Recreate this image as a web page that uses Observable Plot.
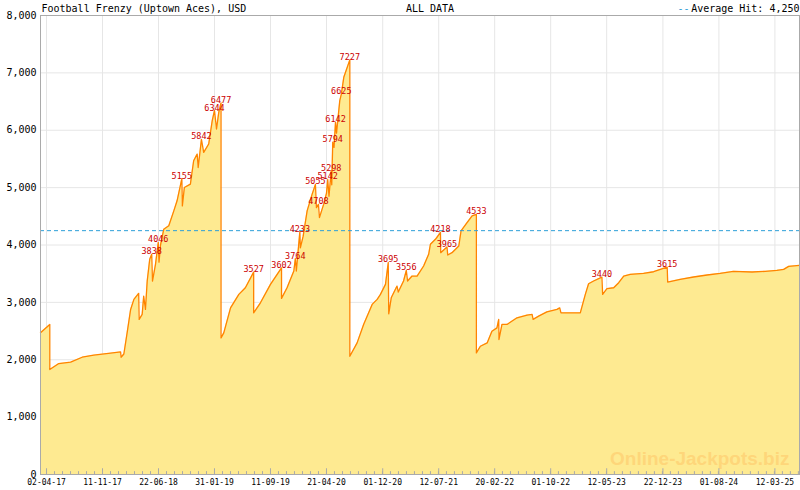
<!DOCTYPE html>
<html>
<head>
<meta charset="utf-8">
<script src="https://cdn.jsdelivr.net/npm/d3@7"></script>
<script src="https://cdn.jsdelivr.net/npm/@observablehq/plot@0.6"></script>
<style>
  html, body { margin: 0; padding: 0; background: #fff; }
  #chart svg { display: block; }
</style>
</head>
<body>
<div id="chart"></div>
<script>
const title = "Football Frenzy (Uptown Aces), USD";
const periodLabel = "ALL DATA";
const watermark = "Online-Jackpots.biz";
const averageHit = 4250;

const dates = [
"2017-03-09","2017-04-15","2017-04-15","2017-05-21","2017-07-07","2017-08-22","2017-10-07","2017-12-13",
"2018-01-22","2018-01-24","2018-02-04","2018-02-17","2018-03-03","2018-03-16","2018-04-04","2018-04-06",
"2018-04-18","2018-04-24","2018-05-01","2018-05-08","2018-05-18","2018-05-26","2018-05-29","2018-06-10",
"2018-06-21","2018-06-24","2018-06-30","2018-07-13","2018-08-02","2018-08-22","2018-09-04","2018-09-23",
"2018-09-25","2018-10-03","2018-10-27","2018-11-09","2018-11-23","2018-11-27","2018-12-10","2018-12-19",
"2019-01-08","2019-01-22","2019-01-31","2019-02-08","2019-02-17","2019-02-26","2019-02-26","2019-03-09",
"2019-04-05","2019-05-08","2019-06-03","2019-07-06","2019-07-06","2019-08-02","2019-09-11","2019-10-25",
"2019-10-25","2019-11-16","2019-12-13","2019-12-19","2019-12-23","2020-01-06","2020-01-08","2020-01-19",
"2020-02-04","2020-02-24","2020-03-08","2020-03-12","2020-03-20","2020-03-24","2020-04-10","2020-04-21",
"2020-04-26","2020-05-01","2020-05-10","2020-05-12","2020-05-16","2020-05-21","2020-05-27","2020-05-31",
"2020-06-13","2020-06-19","2020-06-29","2020-07-23","2020-07-23","2020-08-21","2020-09-16","2020-10-20",
"2020-11-09","2020-11-22","2020-12-12","2020-12-23","2020-12-25","2021-01-04","2021-01-27","2021-02-01",
"2021-02-22","2021-03-05","2021-03-10","2021-03-28","2021-04-17","2021-05-13","2021-06-02","2021-06-09",
"2021-06-29","2021-07-19","2021-07-20","2021-08-14","2021-08-17","2021-09-03","2021-09-30","2021-10-09",
"2021-11-02","2021-11-22","2021-12-09","2021-12-09","2021-12-25","2022-01-21","2022-02-09","2022-03-01",
"2022-03-08","2022-03-09","2022-03-21","2022-04-10","2022-05-20","2022-06-29","2022-07-19","2022-07-23",
"2022-08-14","2022-09-16","2022-10-26","2022-11-06","2022-11-11","2023-01-27","2023-02-16","2023-03-01",
"2023-03-21","2023-04-23","2023-04-26","2023-05-13","2023-06-09","2023-06-29","2023-07-19","2023-08-14",
"2023-10-06","2023-11-15","2024-01-08","2024-01-10","2024-02-29","2024-04-22","2024-06-15","2024-08-06",
"2024-09-28","2024-12-11","2025-02-02","2025-03-20","2025-04-16","2025-05-06","2025-06-18"
];
const values = [
2469,2615,1829,1934,1957,2044,2079,2114,
2137,2044,2100,2469,2877,3052,3157,2703,
2790,3110,2877,3372,3751,3838,3372,3663,
4046,3700,4000,4275,4335,4595,4770,5155,
4682,5002,5061,5468,5585,5351,5842,5613,
5760,6167,6344,6022,6312,6477,2381,2469,
2905,3139,3255,3527,2818,2993,3314,3602,
3069,3255,3547,3764,3547,4233,3950,4150,
4595,4886,5055,4650,4708,4478,4712,4900,
5142,4850,5298,5050,5794,5700,6142,5950,
6516,6625,6923,7227,2061,2294,2615,2965,
3052,3139,3314,3695,2800,3080,3284,3180,
3372,3556,3372,3459,3459,3634,3838,4013,
4100,4218,3866,3965,3826,3866,3983,4245,
4390,4507,4533,2119,2236,2294,2498,2556,
2703,2353,2615,2615,2731,2778,2790,2703,
2760,2835,2877,2905,2818,2818,3139,3325,
3372,3440,3139,3238,3255,3343,3459,3489,
3506,3534,3615,3354,3401,3442,3477,3506,
3541,3529,3541,3559,3576,3628,3646
];

const hitDates = [
"2018-05-26","2018-06-21","2018-09-23","2018-12-10","2019-01-31","2019-02-26","2019-07-06","2019-10-25",
"2019-12-19","2020-01-06","2020-03-08","2020-03-20","2020-04-26","2020-05-10","2020-05-16","2020-05-27",
"2020-06-19","2020-07-23","2020-12-23","2021-03-05","2021-07-19","2021-08-14","2021-12-09","2023-04-23",
"2024-01-08"
];
const hitValues = [
3838,4046,5155,5842,6344,6477,3527,3602,
3764,4233,5055,4708,5142,5298,5794,6142,
6625,7227,3695,3556,4218,3965,4533,3440,
3615
];

const xTickLabels = ["02-04-17","11-11-17","22-06-18","31-01-19","11-09-19","21-04-20","01-12-20",
  "12-07-21","20-02-22","01-10-22","12-05-23","22-12-23","01-08-24","12-03-25"];
const yTicks = [0,1000,2000,3000,4000,5000,6000,7000,8000];
const xDomain = ["2017-03-09","2025-06-18"];

const parse = d3.utcParse("%Y-%m-%d");
const parseTick = d3.utcParse("%d-%m-%y");
const series = dates.map((d, i) => ({date: parse(d), value: values[i]}));
const hits = hitDates.map((d, i) => ({date: parse(d), value: hitValues[i]}));
const majorTicks = xTickLabels.map(parseTick);
const domain = xDomain.map(parse);
const step = (majorTicks[1] - majorTicks[0]) / 7;
const minorTicks = [];
for (let t = +majorTicks[0]; t <= +domain[1]; t += step) minorTicks.push(new Date(Math.round(t)));

const chart = Plot.plot({
  width: 800,
  height: 490,
  marginLeft: 40,
  marginRight: 1,
  marginTop: 15,
  marginBottom: 16,
  style: {fontFamily: "DejaVu Sans Mono", background: "#fff", color: "#000"},
  x: {type: "utc", domain, label: null},
  y: {domain: [0, 8000], label: null},
  marks: [
    Plot.gridY(yTicks, {stroke: "#e6e6e6", strokeOpacity: 1}),
    Plot.gridX(majorTicks, {stroke: "#e6e6e6", strokeOpacity: 1}),
    Plot.area(series, {x1: "date", y1: 0, y2: "value", fill: "#feea91"}),
    Plot.text([watermark], {frameAnchor: "bottom-right", textAnchor: "end", lineAnchor: "bottom",
      dx: -10, dy: -10, fontSize: 19, fontWeight: "bold", fontFamily: "Liberation Sans", fill: "#fed67a"}),
    Plot.line(series, {x: "date", y: "value", stroke: "#ff8400", strokeWidth: 1.3}),
    Plot.ruleY([averageHit], {stroke: "#2c9fd8", strokeDasharray: "4,3"}),
    Plot.frame({stroke: "#aaa"}),
    Plot.ruleX(minorTicks, {y1: 0, y2: 50, stroke: "#aaa"}),
    Plot.ruleX(majorTicks, {y1: 0, y2: 100, stroke: "#aaa"}),
    Plot.axisY(yTicks, {tickFormat: d3.format(","), tickSize: 0, tickPadding: 4, fontSize: 10, fill: "#000", label: null}),
    Plot.axisX(majorTicks, {tickFormat: d3.utcFormat("%d-%m-%y"), tickSize: 0, tickPadding: 5, fontSize: 8, fill: "#000", label: null}),
    Plot.text(hits, {x: "date", y: "value", text: d => String(d.value), fill: "#cc0000",
      fontSize: 8.5, lineAnchor: "bottom", textAnchor: "middle"}),
    Plot.text([title], {frameAnchor: "top-left", textAnchor: "start", lineAnchor: "bottom", dx: 1, dy: -4, fontSize: 10, fill: "#000"}),
    Plot.text([periodLabel], {frameAnchor: "top", textAnchor: "middle", lineAnchor: "bottom", dx: 10, dy: -4, fontSize: 10, fill: "#000"}),
    Plot.text(["Average Hit: " + d3.format(",")(averageHit)], {frameAnchor: "top-right", textAnchor: "end", lineAnchor: "bottom", dx: 0, dy: -4, fontSize: 10, fill: "#000"}),
    Plot.text(["--"], {frameAnchor: "top-right", textAnchor: "end", lineAnchor: "bottom", dx: -110, dy: -4, fontSize: 10, fill: "#2c9fd8"})
  ]
});
document.getElementById("chart").appendChild(chart);
</script>
</body>
</html>
